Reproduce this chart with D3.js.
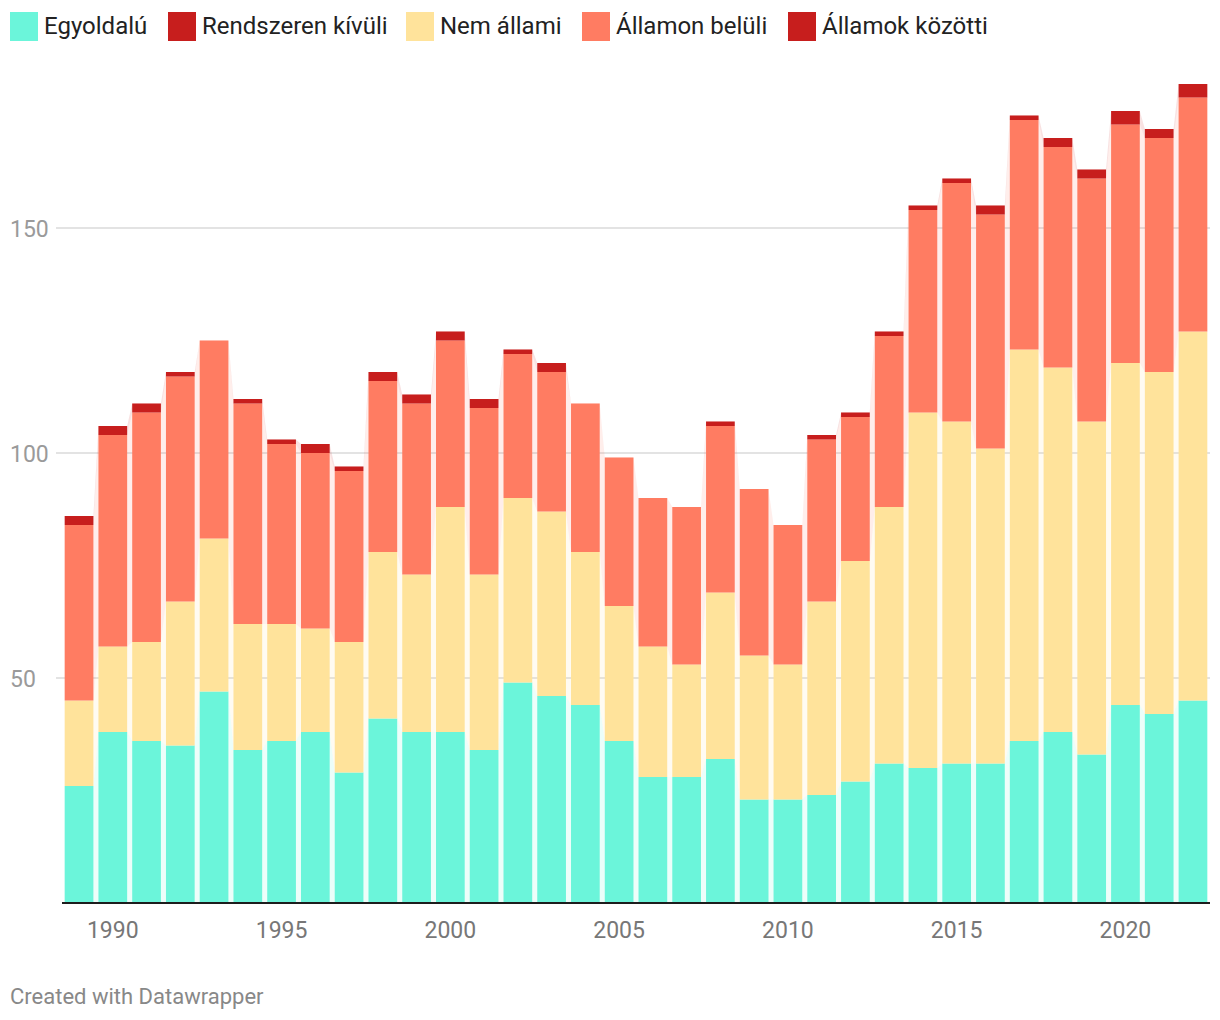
<!DOCTYPE html>
<html>
<head>
<meta charset="utf-8">
<script src="https://cdn.jsdelivr.net/npm/d3@7"></script>
<style>
  html, body { margin: 0; padding: 0; background: #fff; }
  svg { display: block; font-family: Roboto, "Noto Sans", sans-serif; }
</style>
</head>
<body>
<svg id="chart" width="1220" height="1020"></svg>
<script>
const years = [1989,1990,1991,1992,1993,1994,1995,1996,1997,1998,1999,2000,2001,2002,2003,2004,2005,2006,2007,2008,2009,2010,2011,2012,2013,2014,2015,2016,2017,2018,2019,2020,2021,2022];
const seriesNames = ["Egyoldalú", "Rendszeren kívüli", "Nem állami", "Államon belüli", "Államok közötti"];
const seriesColors = ["#6bf5da", "#c71e1d", "#ffe39b", "#ff7c62", "#c71e1d"];
const egyoldalu   = [26,38,36,35,47,34,36,38,29,41,38,38,34,49,46,44,36,28,28,32,23,23,24,27,31,30,31,31,36,38,33,44,42,45];
const rendszeren  = [0,0,0,0,0,0,0,0,0,0,0,0,0,0,0,0,0,0,0,0,0,0,0,0,0,0,0,0,0,0,0,0,0,0];
const nemAllami   = [19,19,22,32,34,28,26,23,29,37,35,50,39,41,41,34,30,29,25,37,32,30,43,49,57,79,76,70,87,81,74,76,76,82];
const allamonBel  = [39,47,51,50,44,49,40,39,38,38,38,37,37,32,31,33,33,33,35,37,37,31,36,32,38,45,53,52,51,49,54,53,52,52];
const allamokKoz  = [2,2,2,1,0,1,1,2,1,2,2,2,2,1,2,0,0,0,0,1,0,0,1,1,1,1,1,2,1,2,2,3,2,3];
const yTicks = [50, 100, 150];
const xTickYears = [1990, 1995, 2000, 2005, 2010, 2015, 2020];

const seriesValues = [egyoldalu, rendszeren, nemAllami, allamonBel, allamokKoz];
const rows = years.map((y, i) => {
  const r = { year: y };
  seriesNames.forEach((n, k) => r[n] = seriesValues[k][i]);
  return r;
});
const stacked = d3.stack().keys(seriesNames)(rows);

const svg = d3.select("#chart");
const x = d3.scaleBand().domain(years).range([62, 1210]).paddingInner(0.15).paddingOuter(0.08);
const y = d3.scaleLinear().domain([0, 150]).range([903, 228]);

// gridlines
const grid = svg.append("g");
grid.selectAll("line").data(yTicks).join("line")
  .attr("x1", 56).attr("x2", 1210)
  .attr("y1", d => y(d)).attr("y2", d => y(d))
  .attr("stroke", "#e3e3e3").attr("stroke-width", 2);
grid.selectAll("text").data(yTicks).join("text")
  .attr("x", 10).attr("y", d => y(d) + 1).attr("dy", "0.35em")
  .attr("fill", "#9a9a9a").attr("font-size", 23).text(d => d);

// faint connecting areas
const bw = x.bandwidth();
stacked.forEach((s, k) => {
  const pts = [];
  s.forEach((d, i) => {
    const x0 = x(years[i]);
    pts.push({ x: x0, y0: d[0], y1: d[1] });
    pts.push({ x: x0 + bw, y0: d[0], y1: d[1] });
  });
  const area = d3.area().x(p => p.x).y0(p => y(p.y0)).y1(p => y(p.y1));
  svg.append("path").attr("d", area(pts))
    .attr("fill", seriesColors[k]).attr("fill-opacity", 0.13);
});

// bars
stacked.forEach((s, k) => {
  svg.append("g").selectAll("rect").data(s).join("rect")
    .attr("x", (d, i) => x(years[i]))
    .attr("width", bw)
    .attr("y", d => y(d[1]))
    .attr("height", d => Math.max(0, y(d[0]) - y(d[1])))
    .attr("fill", seriesColors[k]);
});

// baseline
svg.append("line").attr("x1", 62).attr("x2", 1210).attr("y1", 903).attr("y2", 903)
  .attr("stroke", "#1d1d1d").attr("stroke-width", 2);

// x axis labels
const xAxis = d3.axisBottom(x).tickValues(xTickYears).tickSize(0).tickPadding(0);
const xg = svg.append("g").attr("transform", "translate(0,903)").call(xAxis);
xg.select(".domain").remove();
xg.selectAll("text").attr("font-size", 23).attr("fill", "#777").attr("font-family", "Roboto, sans-serif")
  .attr("y", 27).attr("dy", "0.35em");

// legend
const legendX = [10, 168, 406, 582, 788];
const lg = svg.append("g");
seriesNames.forEach((n, k) => {
  lg.append("rect").attr("x", legendX[k]).attr("y", 12).attr("width", 28).attr("height", 29)
    .attr("fill", seriesColors[k]);
  lg.append("text").attr("x", legendX[k] + 34).attr("y", 26).attr("dy", "0.35em")
    .attr("font-size", 24).attr("fill", "#222").text(n);
});

// footer
svg.append("text").attr("x", 10).attr("y", 1004).attr("font-size", 22).attr("fill", "#888")
  .text("Created with Datawrapper");
</script>
</body>
</html>
